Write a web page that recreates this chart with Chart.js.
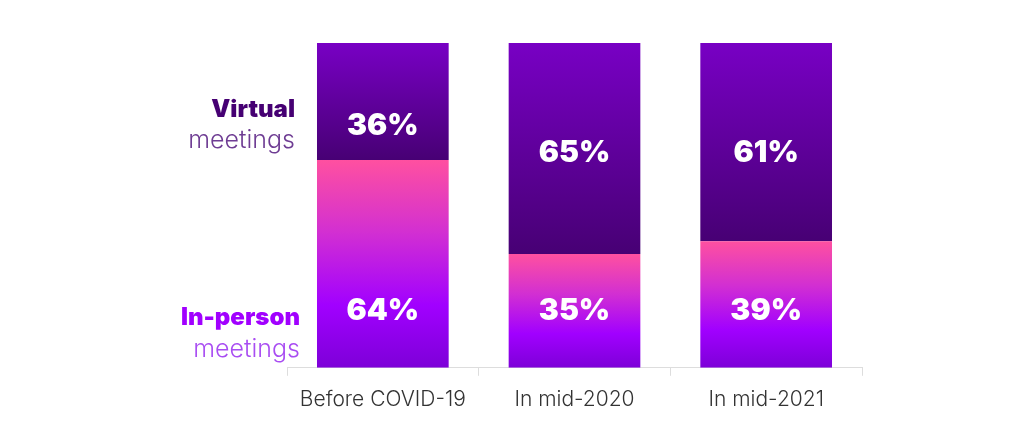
<!DOCTYPE html>
<html>
<head>
<meta charset="utf-8">
<script src="https://cdn.jsdelivr.net/npm/chart.js@4"></script>
<style>
    html, body { margin: 0; padding: 0; background: #fff; }
    #wrap { width: 1024px; height: 425px; }
</style>
</head>
<body>
<div id="wrap"><canvas id="meetingsChart"></canvas></div>
<script>
const periods = ['Before COVID-19', 'In mid-2020', 'In mid-2021'];
const inPerson = [64, 35, 39];
const virtualMtg = [36, 65, 61];

function gradientFor(ctx, stops, lo, hi) {
    const chart = ctx.chart;
    const y = chart.scales.y;
    if (!chart.chartArea || !y) return stops[0][1];
    const top = y.getPixelForValue(hi);
    const bottom = y.getPixelForValue(lo);
    const g = chart.ctx.createLinearGradient(0, top, 0, bottom);
    stops.forEach(function (s) { g.addColorStop(s[0], s[1]); });
    return g;
}

const labelPlugin = {
    id: 'meetingLabels',
    afterDatasetsDraw(chart) {
        const c = chart.ctx;
        const x = chart.scales.x;
        const y = chart.scales.y;
        c.save();
        c.textAlign = 'center';
        c.textBaseline = 'middle';
        c.fillStyle = '#ffffff';
        c.font = '900 30px Inter, "DejaVu Sans", sans-serif';
        periods.forEach(function (p, i) {
            const cx = x.getPixelForValue(i);
            const boundary = y.getPixelForValue(inPerson[i]);
            const vy = Math.min(y.getPixelForValue(66), boundary - 34);
            c.fillText(virtualMtg[i] + '%', cx, vy);
            c.fillText(inPerson[i] + '%', cx, y.getPixelForValue(17.5));
        });

        // series names on the left
        const lx = chart.chartArea.left + 8;
        c.textAlign = 'right';
        c.font = '900 24px Inter, "DejaVu Sans", sans-serif';
        c.fillStyle = '#460073';
        c.fillText('Virtual', lx, y.getPixelForValue(79.5));
        c.font = '300 25px Inter, "DejaVu Sans", sans-serif';
        c.fillStyle = '#6e3c93';
        c.fillText('meetings', lx, y.getPixelForValue(70));
        c.font = '900 24px Inter, "DejaVu Sans", sans-serif';
        c.fillStyle = '#a100ff';
        c.fillText('In-person', lx + 5, y.getPixelForValue(15.3));
        c.font = '300 25px Inter, "DejaVu Sans", sans-serif';
        c.fillStyle = '#a94df2';
        c.fillText('meetings', lx + 5, y.getPixelForValue(5.5));
        c.restore();
    }
};

new Chart(document.getElementById('meetingsChart'), {
    type: 'bar',
    data: {
        labels: periods,
        datasets: [
            {
                label: 'In-person meetings',
                data: inPerson,
                backgroundColor: function (ctx) {
                    const v = inPerson[ctx.dataIndex];
                    return gradientFor(ctx, [
                        [0, '#ff50a0'],
                        [0.35, '#d22fd2'],
                        [0.7, '#a100ff'],
                        [1, '#7d00d8']
                    ], 0, v);
                },
                borderWidth: 0,
                barPercentage: 0.687,
                categoryPercentage: 1
            },
            {
                label: 'Virtual meetings',
                data: virtualMtg,
                backgroundColor: function (ctx) {
                    const v = inPerson[ctx.dataIndex];
                    return gradientFor(ctx, [
                        [0, '#7800c4'],
                        [1, '#470074']
                    ], v, 100);
                },
                borderWidth: 0,
                barPercentage: 0.687,
                categoryPercentage: 1
            }
        ]
    },
    options: {
        responsive: true,
        maintainAspectRatio: false,
        animation: false,
        layout: {
            padding: { left: 287, right: 162, top: 43, bottom: 2 }
        },
        plugins: {
            legend: { display: false },
            tooltip: { enabled: false }
        },
        scales: {
            x: {
                stacked: true,
                grid: {
                    drawOnChartArea: false,
                    tickLength: 8,
                    color: '#dddddd'
                },
                border: { color: '#dddddd' },
                ticks: {
                    color: '#333333',
                    padding: 11,
                    font: { family: 'Inter, "DejaVu Sans", sans-serif', size: 21, weight: '300' }
                }
            },
            y: {
                stacked: true,
                display: false,
                min: 0,
                max: 100
            }
        }
    },
    plugins: [labelPlugin]
});
</script>
</body>
</html>
